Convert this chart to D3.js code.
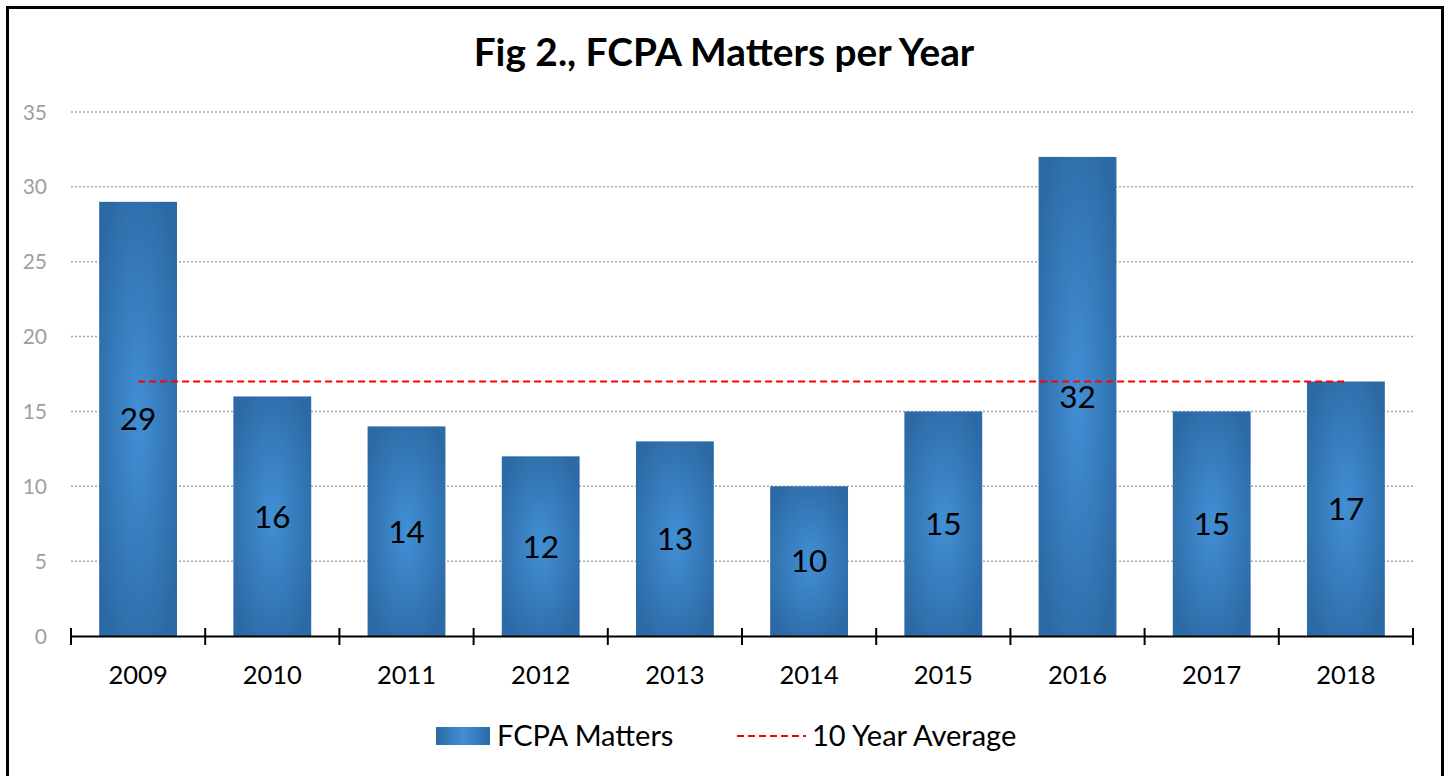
<!DOCTYPE html>
<html><head><meta charset="utf-8">
<script src="https://cdn.jsdelivr.net/npm/d3@7"></script>
<style>body{margin:0;background:#fff;}svg{display:block;}</style>
</head><body>
<script>
const years = ["2009","2010","2011","2012","2013","2014","2015","2016","2017","2018"];
const matters = [29,16,14,12,13,10,15,32,15,17];
const average = 17;
const yTicks = [0,5,10,15,20,25,30,35];
const title = "Fig 2., FCPA Matters per Year";
const seriesNames = ["FCPA Matters","10 Year Average"];

(function(){
const W=1448,H=776;
const svg=d3.select("body").append("svg").attr("width",W).attr("height",H);
const font="Lato, 'Open Sans', sans-serif";
const defs=svg.append("defs");
const rg=defs.append("radialGradient").attr("id","barGrad").attr("cx","0.5").attr("cy","0.5").attr("r","0.6");
rg.append("stop").attr("offset","0%").attr("stop-color","#428fd5");
rg.append("stop").attr("offset","100%").attr("stop-color","#2c6aa5");
const lg=defs.append("linearGradient").attr("id","legGrad").attr("x1","0").attr("x2","1").attr("y1","0").attr("y2","0");
lg.append("stop").attr("offset","0%").attr("stop-color","#2c6aa5");
lg.append("stop").attr("offset","50%").attr("stop-color","#428fd5");
lg.append("stop").attr("offset","100%").attr("stop-color","#2c6aa5");

svg.append("rect").attr("x",7.5).attr("y",7.5).attr("width",1435).attr("height",800).attr("fill","none").attr("stroke","#000").attr("stroke-width",3);

svg.append("text").attr("x",724).attr("y",66).attr("text-anchor","middle").attr("font-family","Lato, sans-serif").attr("font-weight","bold").attr("font-size",38.8).attr("fill","#000").text(title);

const pL=71,pR=1413,pT=112,pB=636;
const x=d3.scaleBand().domain(years).range([pL,pR]).paddingInner(0.42).paddingOuter(0.21);
const xb=d3.scaleBand().domain(years).range([pL,pR]);
const y=d3.scaleLinear().domain([0,35]).range([pB,pT]);

svg.append("g").selectAll("line").data(yTicks.filter(d=>d>0)).join("line")
 .attr("x1",pL).attr("x2",pR).attr("y1",d=>y(d)).attr("y2",d=>y(d))
 .attr("stroke","#a6a6a6").attr("stroke-width",1.5).attr("stroke-dasharray","2,2");
svg.append("g").selectAll("text").data(yTicks).join("text")
 .attr("x",47).attr("y",d=>y(d)).attr("dy","0.36em").attr("text-anchor","end")
 .attr("font-family",font).attr("font-size",21).attr("fill","#a0a0a0").text(d=>d);

svg.append("g").selectAll("rect").data(matters).join("rect")
 .attr("x",(d,i)=>x(years[i])).attr("width",x.bandwidth())
 .attr("y",d=>y(d)).attr("height",d=>pB-y(d)).attr("fill","url(#barGrad)");

const xAxis=d3.axisBottom(xb).tickSize(0);
const ax=svg.append("g").attr("transform",`translate(0,${pB})`).call(xAxis);
ax.select(".domain").attr("stroke","#000").attr("stroke-width",2);
ax.selectAll("text").attr("y",48).attr("dy",null).attr("font-family",font).attr("font-size",25.5).attr("fill","#000");
const bounds=years.map(yv=>xb(yv)).concat([pR]);
svg.append("g").selectAll("line").data(bounds).join("line")
 .attr("x1",d=>d).attr("x2",d=>d).attr("y1",pB-8).attr("y2",pB+9)
 .attr("stroke","#000").attr("stroke-width",2);

svg.append("line").attr("x1",x(years[0])+x.bandwidth()/2).attr("x2",x(years[9])+x.bandwidth()/2)
 .attr("y1",y(average)).attr("y2",y(average)).attr("stroke","#ff0000").attr("stroke-width",2.2).attr("stroke-dasharray","7,4");

svg.append("g").selectAll("text").data(matters).join("text")
 .attr("x",(d,i)=>x(years[i])+x.bandwidth()/2).attr("y",d=>(y(d)+pB)/2).attr("dy","0.36em")
 .attr("text-anchor","middle").attr("font-family",font).attr("font-size",31.5).attr("fill","#000").text(d=>d);

const leg=svg.append("g");
leg.append("rect").attr("x",436).attr("y",727).attr("width",54).attr("height",18).attr("fill","url(#legGrad)");
leg.append("text").attr("x",497).attr("y",746).attr("font-family",font).attr("font-size",29).attr("fill","#000").text(seriesNames[0]);
leg.append("line").attr("x1",737).attr("x2",806).attr("y1",736).attr("y2",736).attr("stroke","#ff0000").attr("stroke-width",2.2).attr("stroke-dasharray","7,4");
leg.append("text").attr("x",812).attr("y",746).attr("font-family",font).attr("font-size",29).attr("fill","#000").text(seriesNames[1]);
})();
</script>
</body></html>
